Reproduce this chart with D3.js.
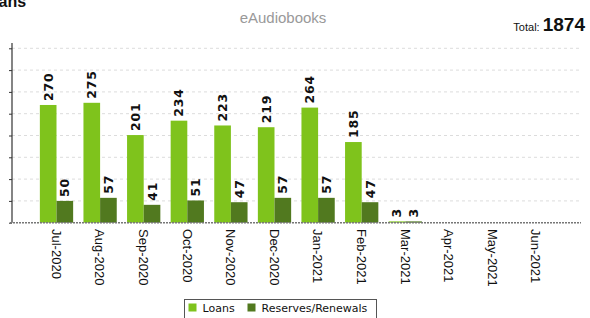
<!DOCTYPE html>
<html>
<head>
<meta charset="utf-8">
<script src="https://cdn.jsdelivr.net/npm/d3@7"></script>
<style>
  body { margin: 0; background: #fff; overflow: hidden; }
  svg { display: block; }
</style>
</head>
<body>
<script>
// chart data
const months = ["Jul-2020", "Aug-2020", "Sep-2020", "Oct-2020", "Nov-2020", "Dec-2020",
                "Jan-2021", "Feb-2021", "Mar-2021", "Apr-2021", "May-2021", "Jun-2021"];
const loans = [270, 275, 201, 234, 223, 219, 264, 185, 3, 0, 0, 0];
const reserves = [50, 57, 41, 51, 47, 57, 57, 47, 3, 0, 0, 0];
const seriesNames = ["Loans", "Reserves/Renewals"];
const yTicks = [0, 50, 100, 150, 200, 250, 300, 350, 400];

const colors = ["#7fc31c", "#51791f"];
const width = 590, height = 318;

const svg = d3.select("body").append("svg")
    .attr("width", width)
    .attr("height", height);

// scales
const x0 = d3.scaleBand()
    .domain(months)
    .range([34.7, 557.9])
    .padding(0);

const x1 = d3.scaleBand()
    .domain([0, 1])
    .range([0, x0.bandwidth()])
    .paddingInner(0)
    .paddingOuter(0.31);

const y = d3.scaleLinear()
    .domain([0, 400])
    .range([222.7, 48.3]);

// gridlines
svg.append("g")
    .selectAll("line")
    .data(yTicks.slice(1))
    .enter()
    .append("line")
    .attr("x1", 12)
    .attr("x2", 580)
    .attr("y1", d => y(d))
    .attr("y2", d => y(d))
    .attr("stroke", "#dcdcdc")
    .attr("stroke-dasharray", "3,3");

// y axis (labels are cut off in the original)
const yAxis = svg.append("g")
    .attr("transform", "translate(12,0)")
    .call(d3.axisLeft(y).tickValues(yTicks).tickSize(3).tickFormat(""));
yAxis.select(".domain").remove();
yAxis.selectAll("line").attr("stroke", "#333");
svg.append("line")
    .attr("x1", 12).attr("x2", 12)
    .attr("y1", 43).attr("y2", y(0))
    .attr("stroke", "#333")
    .attr("stroke-width", 1.2);

// bars
const rows = months.map((m, i) => ({ month: m, values: [loans[i], reserves[i]] }));

const groups = svg.append("g")
    .selectAll("g")
    .data(rows)
    .enter()
    .append("g")
    .attr("transform", d => `translate(${x0(d.month)},0)`);

groups.selectAll("rect")
    .data(d => d.values.map((v, k) => ({ k: k, v: v })))
    .enter()
    .append("rect")
    .attr("x", d => x1(d.k))
    .attr("y", d => y(d.v))
    .attr("width", x1.bandwidth())
    .attr("height", d => y(0) - y(d.v))
    .attr("fill", d => colors[d.k]);

// value labels
groups.selectAll("text")
    .data(d => d.values.map((v, k) => ({ k: k, v: v })).filter(d => d.v > 0))
    .enter()
    .append("text")
    .attr("transform", d => `translate(${x1(d.k) + x1.bandwidth() / 2},${y(d.v) - 4}) rotate(-90)`)
    .attr("dy", "0.36em")
    .attr("text-anchor", "start")
    .style("font-family", "'DejaVu Sans', sans-serif")
    .style("font-weight", "bold")
    .style("font-size", "12.5px")
    .style("letter-spacing", "0.8px")
    .style("fill", "#111")
    .text(d => d.v);

// x axis baseline (dotted)
svg.append("line")
    .attr("x1", 10).attr("x2", 581)
    .attr("y1", y(0)).attr("y2", y(0))
    .attr("stroke", "#777")
    .attr("stroke-width", 1.5)
    .attr("stroke-dasharray", "2,1");

// x labels
svg.append("g")
    .selectAll("text")
    .data(months)
    .enter()
    .append("text")
    .attr("transform", d => `translate(${x0(d) + x0.bandwidth() / 2},229) rotate(90)`)
    .attr("dy", "0.36em")
    .attr("text-anchor", "start")
    .style("font-family", "'Liberation Sans', Arial, sans-serif")
    .style("font-size", "13px")
    .style("fill", "#111")
    .text(d => d);

// titles
svg.append("text")
    .attr("x", -21)
    .attr("y", 7)
    .style("font-family", "'Liberation Sans', Arial, sans-serif")
    .style("font-weight", "bold")
    .style("font-size", "16px")
    .style("fill", "#111")
    .text("Loans");

svg.append("text")
    .attr("x", 283)
    .attr("y", 23)
    .attr("text-anchor", "middle")
    .style("font-family", "'Liberation Sans', Arial, sans-serif")
    .style("font-size", "15px")
    .style("fill", "#999")
    .text("eAudiobooks");

const total = svg.append("text")
    .attr("x", 585)
    .attr("y", 31)
    .attr("text-anchor", "end")
    .style("font-family", "'Liberation Sans', Arial, sans-serif")
    .style("fill", "#111");
total.append("tspan")
    .style("font-size", "11px")
    .text("Total: ");
total.append("tspan")
    .style("font-size", "19px")
    .style("font-weight", "bold")
    .text(d3.sum(loans));

// legend
const legend = svg.append("g").attr("transform", "translate(184.5,299.5)");
legend.append("rect")
    .attr("width", 192)
    .attr("height", 30)
    .attr("fill", "#fff")
    .attr("stroke", "#555");

const legendX = [4, 63];
const items = legend.selectAll("g.item")
    .data(seriesNames)
    .enter()
    .append("g")
    .attr("class", "item")
    .attr("transform", (d, i) => `translate(${legendX[i]},4)`);
items.append("rect")
    .attr("width", 8)
    .attr("height", 8)
    .attr("fill", (d, i) => colors[i]);
items.append("text")
    .attr("x", 14)
    .attr("y", 8)
    .style("font-family", "'DejaVu Sans', sans-serif")
    .style("font-size", "11px")
    .style("fill", "#111")
    .text(d => d);
</script>
</body>
</html>
